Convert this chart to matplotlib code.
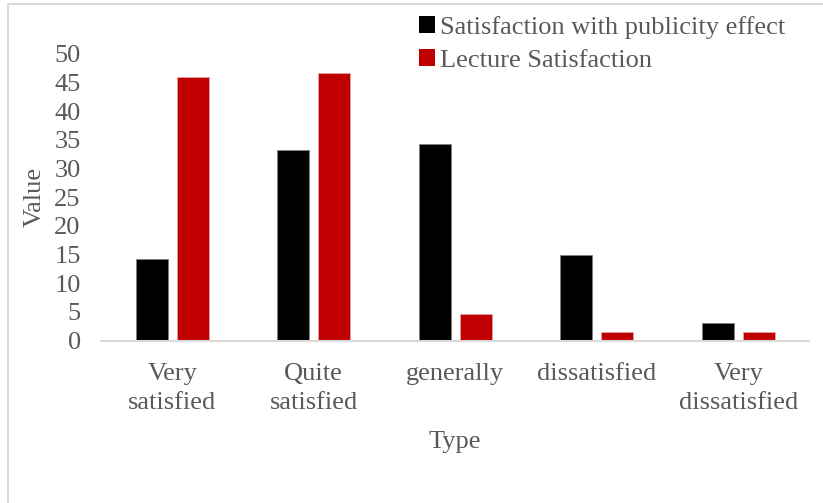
import matplotlib
matplotlib.use("Agg")
import matplotlib.pyplot as plt
import numpy as np
from matplotlib.patches import Rectangle, Patch

categories = ["Very\nsatisfied", "Quite\nsatisfied", "generally", "dissatisfied", "Very\ndissatisfied"]
publicity = [14.3, 33.3, 34.3, 15.0, 3.1]
lecture = [45.9, 46.6, 4.6, 1.5, 1.5]
series_names = ["Satisfaction with publicity effect", "Lecture Satisfaction"]
yticks = [0, 5, 10, 15, 20, 25, 30, 35, 40, 45, 50]

plt.rcParams["font.family"] = ["Liberation Serif", "DejaVu Serif"]
text_color = "#595959"
fs = 19

fig = plt.figure(figsize=(8.23, 5.03), dpi=100)
# chart frame (clipped at right and bottom edges)
fig.patches.append(Rectangle((0.0103, -0.05), 1.1, 1.043, transform=fig.transFigure,
                             fill=False, edgecolor="#d9d9d9", linewidth=1.5))

ax = fig.add_axes([0.1233, 0.323, 0.8597, 0.570])
x = np.arange(len(categories))
w = 0.226
off = 0.145
ax.bar(x - off, publicity, w, color="black", edgecolor="#7f7f7f", linewidth=0.6)
ax.bar(x + off, lecture, w, color="#c00000", edgecolor="#e8a0a0", linewidth=0.6)

ax.set_xlim(-0.5, len(categories) - 0.5)
ax.set_ylim(0, 50)
ax.set_yticks(yticks)
ax.set_xticks(x)
ax.set_xticklabels(categories, linespacing=1.45)
ax.tick_params(axis="both", length=0, labelsize=fs, labelcolor=text_color)
ax.tick_params(axis="y", pad=15)
ax.tick_params(axis="x", pad=16)

for s in ["top", "right", "left"]:
    ax.spines[s].set_visible(False)
ax.spines["bottom"].set_color("#d9d9d9")
ax.spines["bottom"].set_linewidth(1.5)

ax.set_xlabel("Type", fontsize=fs, color=text_color, labelpad=12)
ax.set_ylabel("Value", fontsize=fs, color=text_color, labelpad=6)

handles = [Patch(facecolor="black"), Patch(facecolor="#c00000")]
leg = fig.legend(handles, series_names, loc="upper left", bbox_to_anchor=(0.493, 0.995),
                 frameon=False, fontsize=fs, handlelength=0.6, handleheight=0.6,
                 handletextpad=0.2, labelspacing=0.4, borderaxespad=0.1)
for t in leg.get_texts():
    t.set_color(text_color)

fig.savefig("out.png", dpi=100)
